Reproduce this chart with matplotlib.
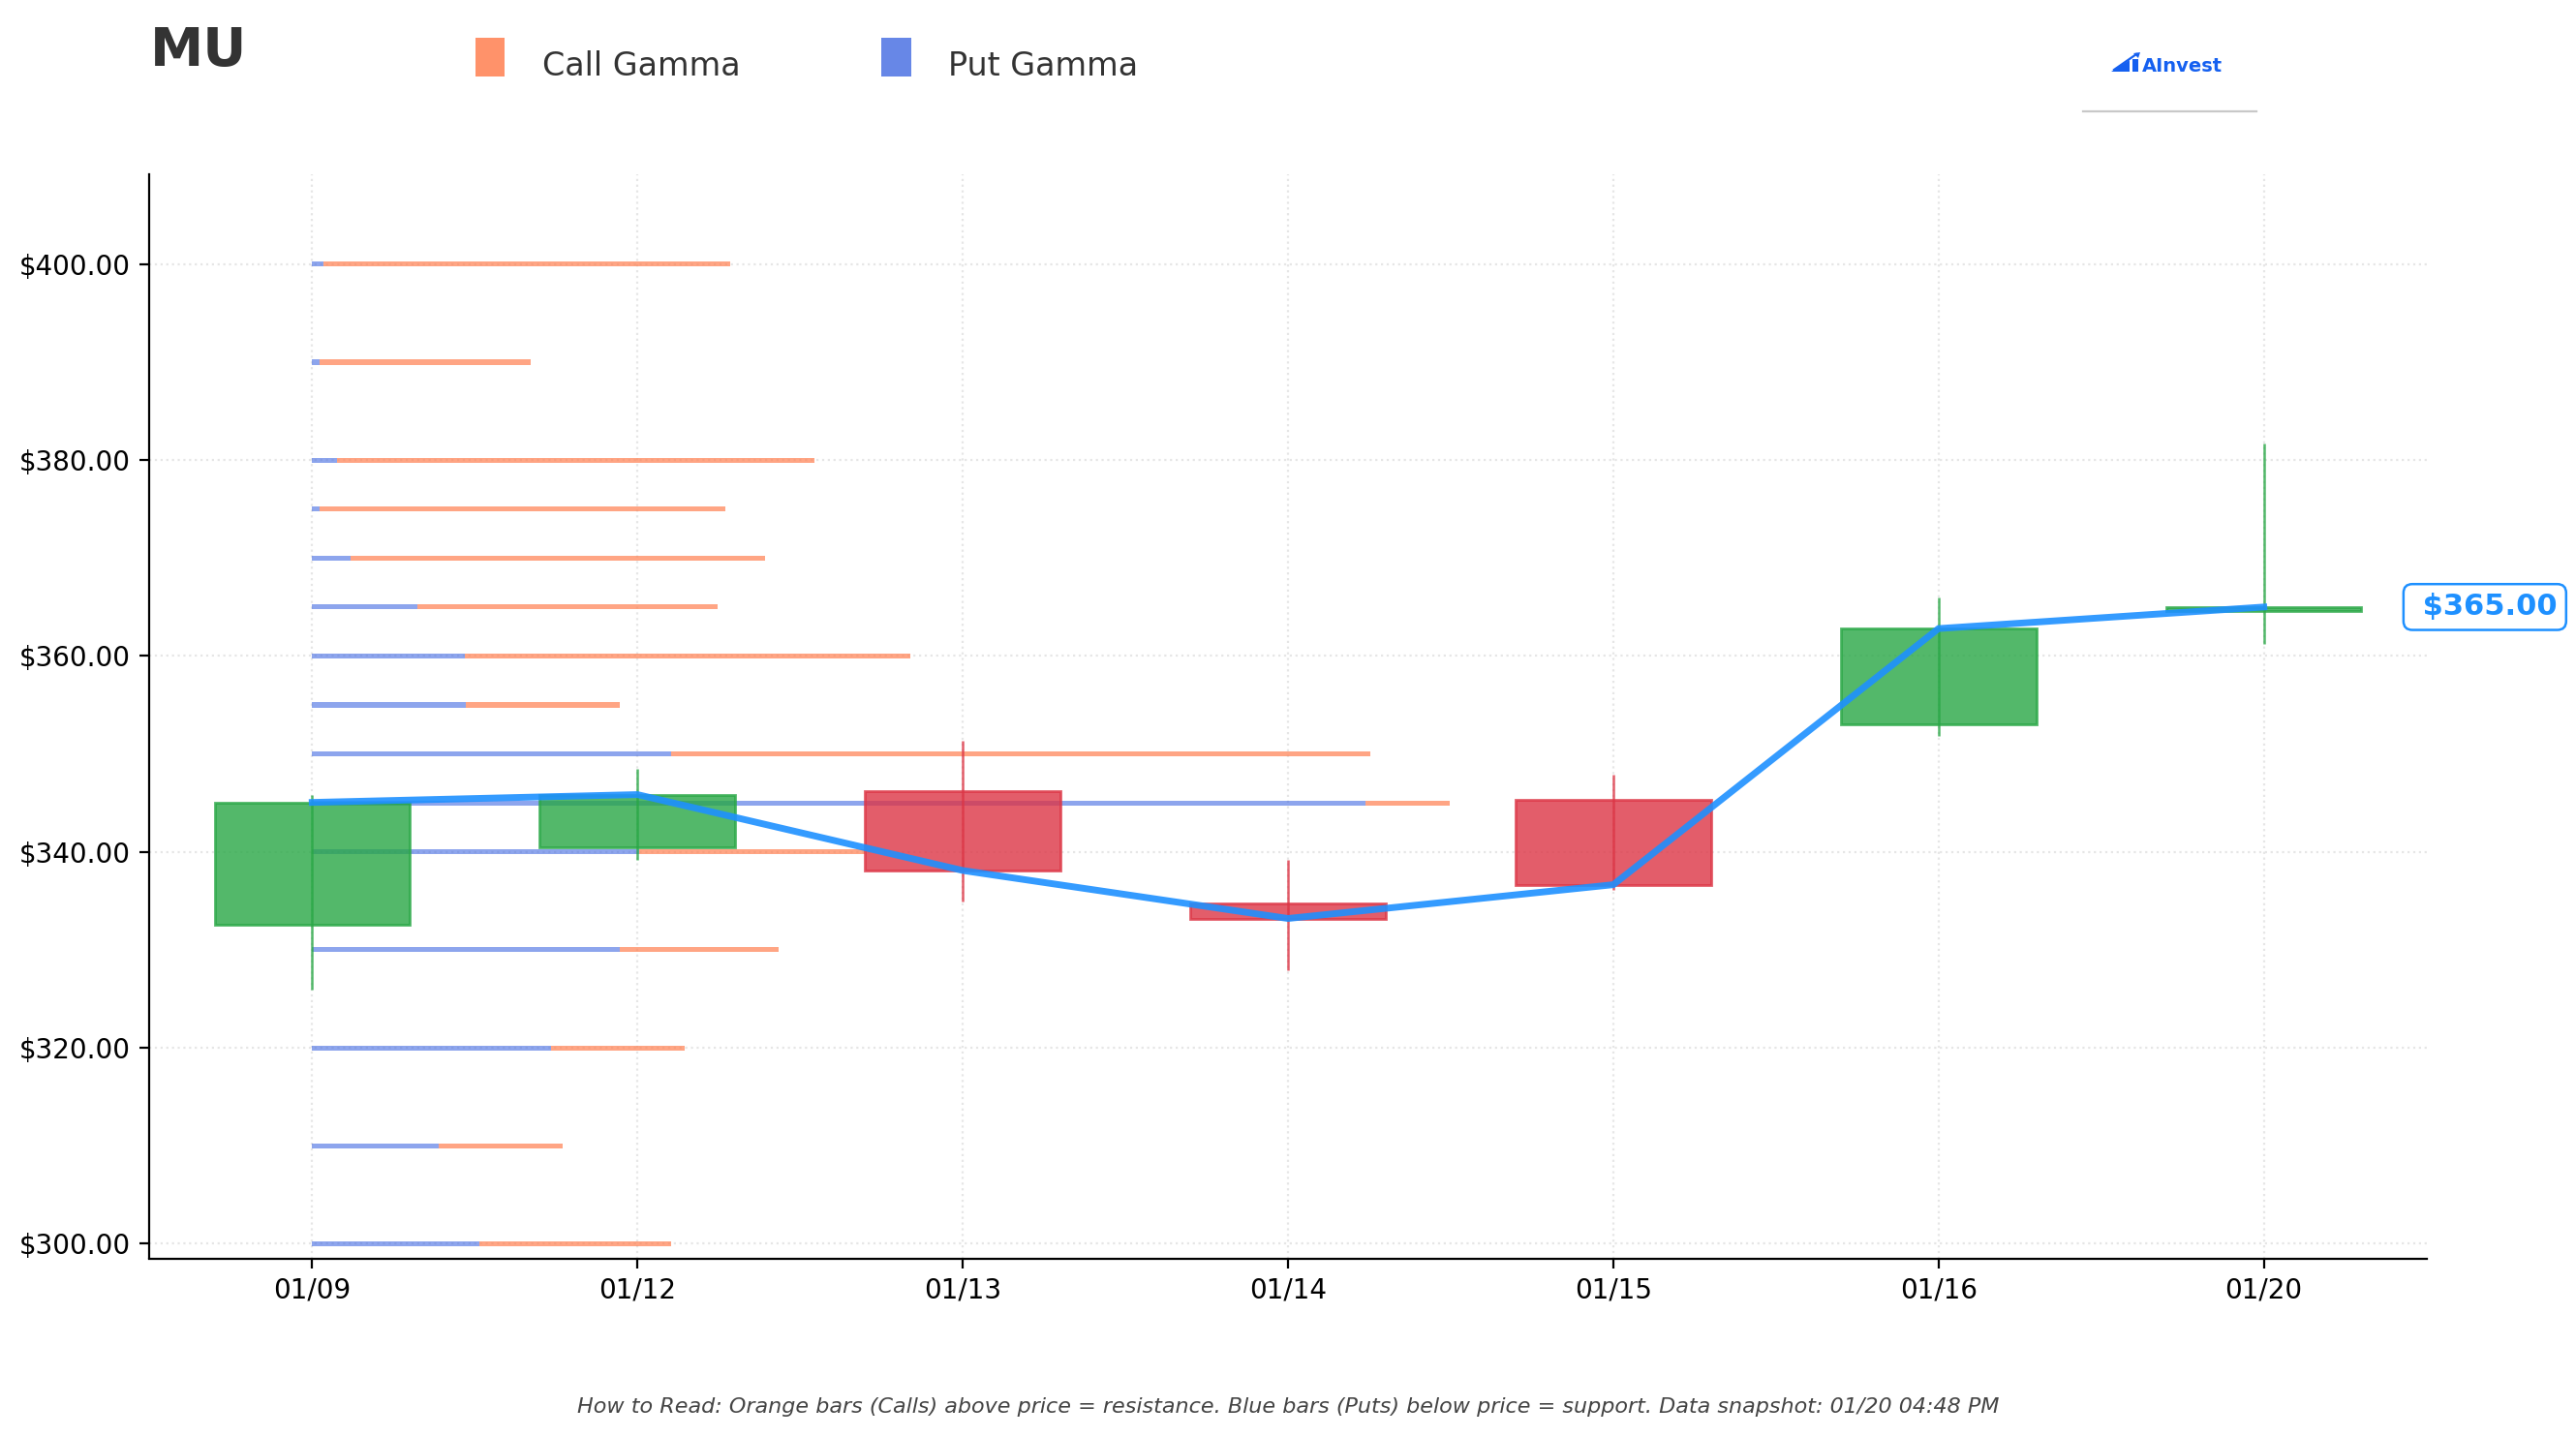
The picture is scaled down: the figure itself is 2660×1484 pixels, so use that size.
import matplotlib
matplotlib.use("Agg")
import matplotlib.pyplot as plt
from matplotlib.patches import Rectangle, Polygon
from matplotlib.lines import Line2D
import matplotlib.transforms as mtransforms

# ---------------- data ----------------
dates = ['01/09', '01/12', '01/13', '01/14', '01/15', '01/16', '01/20']
opens = [332.6, 340.45, 346.25, 334.75, 345.35, 353.0, 364.6]
highs = [345.85, 348.5, 351.3, 339.2, 347.85, 365.95, 381.7]
lows = [325.95, 339.15, 334.95, 327.95, 336.15, 351.85, 361.25]
closes = [345.05, 345.85, 338.1, 333.2, 336.65, 362.8, 365.0]

strikes = [300, 310, 320, 330, 340, 345, 350, 355, 360, 365, 370, 375, 380, 390, 400]
put_gamma = [0.515, 0.390, 0.734, 0.946, 1.005, 3.239, 1.103, 0.473, 0.470, 0.324,
             0.118, 0.024, 0.077, 0.024, 0.036]
call_gamma = [0.590, 0.381, 0.410, 0.489, 0.695, 0.258, 2.150, 0.473, 1.369, 0.922,
              1.275, 1.245, 1.468, 0.647, 1.248]

yticks = [300, 320, 340, 360, 380, 400]
last_price_label = ' $365.00'
title = 'MU'
footer = ('How to Read: Orange bars (Calls) above price = resistance. Blue bars (Puts) '
          'below price = support. Data snapshot: 01/20 04:48 PM')

# ---------------- figure ----------------
W, H = 2660, 1484
DPI = 200
fig = plt.figure(figsize=(W / DPI, H / DPI), dpi=DPI)


def fx(px):
    return px / W


def fy(py):
    return 1 - py / H


ax = fig.add_axes([fx(154.4), fy(1299.5), fx(2505.6) - fx(154.4), fy(179.8) - fy(1299.5)])

GREEN = '#28a745'
RED = '#dc3545'
CALL = '#FF7F50'
PUT = '#4169E1'
LINE = '#1E90FF'

xs = list(range(len(dates)))

# gamma bars (put first, call stacked after)
ax.barh(strikes, put_gamma, left=0, height=0.5, color=PUT, alpha=0.6, zorder=2, linewidth=0)
ax.barh(strikes, call_gamma, left=put_gamma, height=0.5, color=CALL, alpha=0.7, zorder=2,
        linewidth=0)

# candles
body_w = 0.6
for x, o, h, l, c in zip(xs, opens, highs, lows, closes):
    col = GREEN if c >= o else RED
    ax.vlines(x, l, h, color=col, linewidth=0.9, alpha=0.8, zorder=3)
    ax.add_patch(Rectangle((x - body_w / 2, min(o, c)), body_w, abs(c - o),
                           facecolor=col, edgecolor=col, linewidth=1.0, alpha=0.8, zorder=3))

# close line
ax.plot(xs, closes, color=LINE, linewidth=2.5, alpha=0.9, zorder=4, solid_joinstyle='miter')

# axes styling
ax.set_xlim(-0.5, 6.5)
ax.set_ylim(298.5, 409.2)
ax.set_xticks(xs)
ax.set_xticklabels(dates, fontsize=10)
ax.set_yticks(yticks)
ax.set_yticklabels([f'${v:.2f}' for v in yticks], fontsize=10)
ax.grid(True, linestyle=':', color='#e6e6e6', linewidth=0.8, zorder=0)
ax.set_axisbelow(True)
for s in ['top', 'right']:
    ax.spines[s].set_visible(False)

# last price label
trans = mtransforms.blended_transform_factory(ax.transAxes, ax.transData)
ax.text(0.9938, closes[-1], last_price_label, transform=trans, ha='left', va='center',
        fontsize=11, fontweight='bold', color=LINE, clip_on=False, zorder=6,
        bbox=dict(boxstyle='round,pad=0.3', facecolor='white', edgecolor=LINE, linewidth=0.9))

# title
fig.text(fx(155), fy(68.3), title, fontsize=20, fontweight='bold', color='#333333',
         ha='left', va='baseline')

# legend (manual)
fig.patches.append(Rectangle((fx(491), fy(78.7)), fx(30), 39.7 / H, transform=fig.transFigure,
                             facecolor=CALL, alpha=0.85, edgecolor='none'))
fig.patches.append(Rectangle((fx(910), fy(78.7)), fx(31), 39.7 / H, transform=fig.transFigure,
                             facecolor=PUT, alpha=0.8, edgecolor='none'))
fig.text(fx(560), fy(78.5), 'Call Gamma', fontsize=12, color='#333333', ha='left', va='baseline')
fig.text(fx(979), fy(78.5), 'Put Gamma', fontsize=12, color='#333333', ha='left', va='baseline')

# logo
LOGO = '#1560F0'
fig.patches.append(Polygon([(fx(2180), fy(74)), (fx(2199), fy(74)), (fx(2199), fy(62))],
                           closed=True, transform=fig.transFigure, facecolor=LOGO,
                           edgecolor='none'))
fig.patches.append(Rectangle((fx(2202), fy(74)), fx(6), 13 / H, transform=fig.transFigure,
                             facecolor=LOGO, edgecolor='none'))
fig.lines.append(Line2D([fx(2183), fx(2206)], [fy(72), fy(56)], transform=fig.transFigure,
                        color=LOGO, linewidth=0.8))
fig.patches.append(Polygon([(fx(2210), fy(54)), (fx(2203), fy(55)), (fx(2208), fy(60))],
                           closed=True, transform=fig.transFigure, facecolor=LOGO,
                           edgecolor='none'))
fig.text(fx(2212), fy(74), 'AInvest', fontsize=7, fontweight='bold', color=LOGO,
         ha='left', va='baseline')
fig.lines.append(Line2D([fx(2151), fx(2330)], [fy(115), fy(115)], transform=fig.transFigure,
                        color='#c8c8c8', linewidth=0.8))

# footer
fig.text(0.5, fy(1459), footer, fontsize=8, style='italic', color='#444444', ha='center',
         va='baseline')

fig.savefig('out.png', dpi=DPI, facecolor='white')
